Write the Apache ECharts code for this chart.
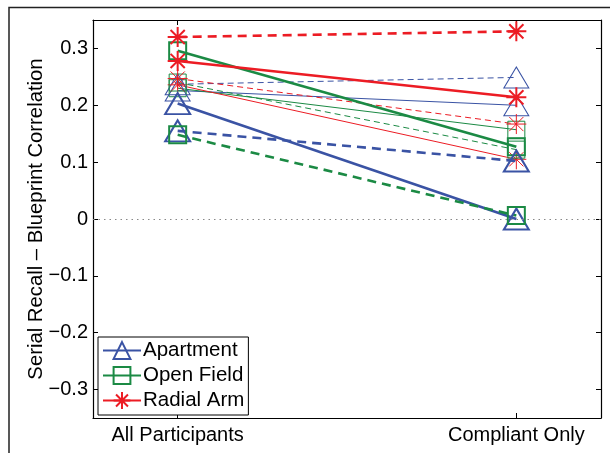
<!DOCTYPE html>
<html>
<head>
<meta charset="utf-8">
<script src="https://cdn.jsdelivr.net/npm/echarts@6/dist/echarts.min.js"></script>
<style>html,body{margin:0;padding:0;background:#fff}#c{width:610px;height:453px}</style>
</head>
<body>
<div id="c"></div>
<script>
// ---- data ----
const categories = ['All Participants', 'Compliant Only'];
const yTicks = [-0.3, -0.2, -0.1, 0, 0.1, 0.2, 0.3];
const xTicks = [1, 2];
const legendNames = ['Apartment', 'Open Field', 'Radial Arm'];

const apartmentThick = [0.203, 0.0];
const apartmentThickDashed = [0.155, 0.102];
const apartmentThin = [0.226, 0.2];
const apartmentThinDashed = [0.237, 0.249];

const openFieldThick = [0.296, 0.127];
const openFieldThickDashed = [0.148, 0.006];
const openFieldThin = [0.23, 0.157];
const openFieldThinDashed = [0.24, 0.122];

const radialThick = [0.278, 0.214];
const radialThickDashed = [0.32, 0.33];
const radialThin = [0.236, 0.105];
const radialThinDashed = [0.247, 0.167];

// ---- styling ----
const BLUE = '#3a53a4', GREEN = '#1b8a44', RED = '#ec1c24';
const FONT = 'Liberation Sans, Arial, Helvetica, sans-serif';
const STAR = 'path://M0,10L20,10M10,0L10,20M2.9,2.9L17.1,17.1M17.1,2.9L2.9,17.1';

function pts(vals) { return vals.map((v, i) => [xTicks[i], v]); }

function mk(name, vals, color, symbol, thick, dashed) {
  const symSize = symbol === 'triangle' ? [25, 21] : (symbol === 'rect' ? 17 : 20);
  return {
    name: name,
    type: 'line',
    data: pts(vals),
    symbol: symbol,
    symbolSize: symSize,
    showSymbol: true,
    symbolKeepAspect: true,
    lineStyle: {
      color: color,
      width: thick ? 2.6 : 1,
      type: dashed ? (thick ? [9, 6] : [6, 4]) : 'solid'
    },
    itemStyle: {
      color: 'rgba(0,0,0,0)',
      borderColor: color,
      borderWidth: thick ? 2 : 1
    },
    emphasis: { disabled: true },
    animation: false,
    z: thick ? 3 : 2
  };
}

const series = [
  mk('Apartment', apartmentThick, BLUE, 'triangle', true, false),
  mk('Open Field', openFieldThick, GREEN, 'rect', true, false),
  mk('Radial Arm', radialThick, RED, STAR, true, false),
  mk('Apartment dashed', apartmentThickDashed, BLUE, 'triangle', true, true),
  mk('Open Field dashed', openFieldThickDashed, GREEN, 'rect', true, true),
  mk('Radial Arm dashed', radialThickDashed, RED, STAR, true, true),
  mk('Apartment thin', apartmentThin, BLUE, 'triangle', false, false),
  mk('Open Field thin', openFieldThin, GREEN, 'rect', false, false),
  mk('Radial Arm thin', radialThin, RED, STAR, false, false),
  mk('Apartment thin dashed', apartmentThinDashed, BLUE, 'triangle', false, true),
  mk('Open Field thin dashed', openFieldThinDashed, GREEN, 'rect', false, true),
  mk('Radial Arm thin dashed', radialThinDashed, RED, STAR, false, true)
];

series[0].markLine = {
  silent: true,
  symbol: 'none',
  label: { show: false },
  lineStyle: { type: [1.5, 4], color: '#888', width: 1 },
  data: [{ yAxis: 0 }],
  animation: false
};

const fmtY = v => {
  const r = Math.round(v * 10) / 10;
  const s = r === 0 ? '0' : String(r);
  return s.replace('-', '\u2212');
};

const axisLineStyle = { show: true, onZero: false, lineStyle: { color: '#000', width: 1.2 } };
const tickStyle = vals => ({ show: true, inside: true, length: 5, customValues: vals, lineStyle: { color: '#000' } });

const chart = echarts.init(document.getElementById('c'), null, { renderer: 'canvas' });
chart.setOption({
  backgroundColor: '#fff',
  animation: false,
  textStyle: { fontFamily: FONT },
  grid: { left: 93, right: 9, top: 20, bottom: 35 },
  legend: {
    data: legendNames,
    orient: 'vertical',
    left: 98,
    top: 337,
    backgroundColor: '#fff',
    borderColor: '#000',
    borderWidth: 1,
    borderRadius: 0,
    padding: [3, 4, 4, 4],
    itemGap: 4,
    itemWidth: 38,
    itemHeight: 21,
    textStyle: { fontSize: 20.5, color: '#000', fontFamily: FONT, padding: [0, 0, 0, -3] },
    selectedMode: false
  },
  xAxis: [
    {
      type: 'value', min: 0.75, max: 2.25, position: 'bottom',
      axisLine: axisLineStyle, splitLine: { show: false },
      axisTick: tickStyle(xTicks),
      axisLabel: { show: true, customValues: xTicks, formatter: v => categories[Math.round(v) - 1],
        fontSize: 20, color: '#000', margin: 7, fontFamily: FONT }
    },
    {
      type: 'value', min: 0.75, max: 2.25, position: 'top',
      axisLine: axisLineStyle, splitLine: { show: false },
      axisTick: tickStyle(xTicks),
      axisLabel: { show: false }
    }
  ],
  yAxis: [
    {
      type: 'value', min: -0.35, max: 0.35, position: 'left',
      axisLine: axisLineStyle, splitLine: { show: false },
      name: 'Serial Recall \u2013 Blueprint Correlation',
      nameLocation: 'middle', nameGap: 47, nameRotate: 90, nameMoveOverlap: false,
      nameTextStyle: { fontSize: 20.3, color: '#000', fontFamily: FONT },
      axisTick: tickStyle(yTicks),
      axisLabel: { show: true, customValues: yTicks, formatter: fmtY, fontSize: 20, color: '#000', margin: 5, fontFamily: FONT }
    },
    {
      type: 'value', min: -0.35, max: 0.35, position: 'right',
      axisLine: axisLineStyle, splitLine: { show: false },
      axisTick: tickStyle(yTicks),
      axisLabel: { show: false }
    }
  ],
  graphic: [
    { type: 'polyline', shape: { points: [[9, 453], [9, 7.5], [610, 7.5]] }, style: { stroke: '#222', lineWidth: 1.5, fill: null }, silent: true }
  ],
  series: series
});
</script>
</body>
</html>
